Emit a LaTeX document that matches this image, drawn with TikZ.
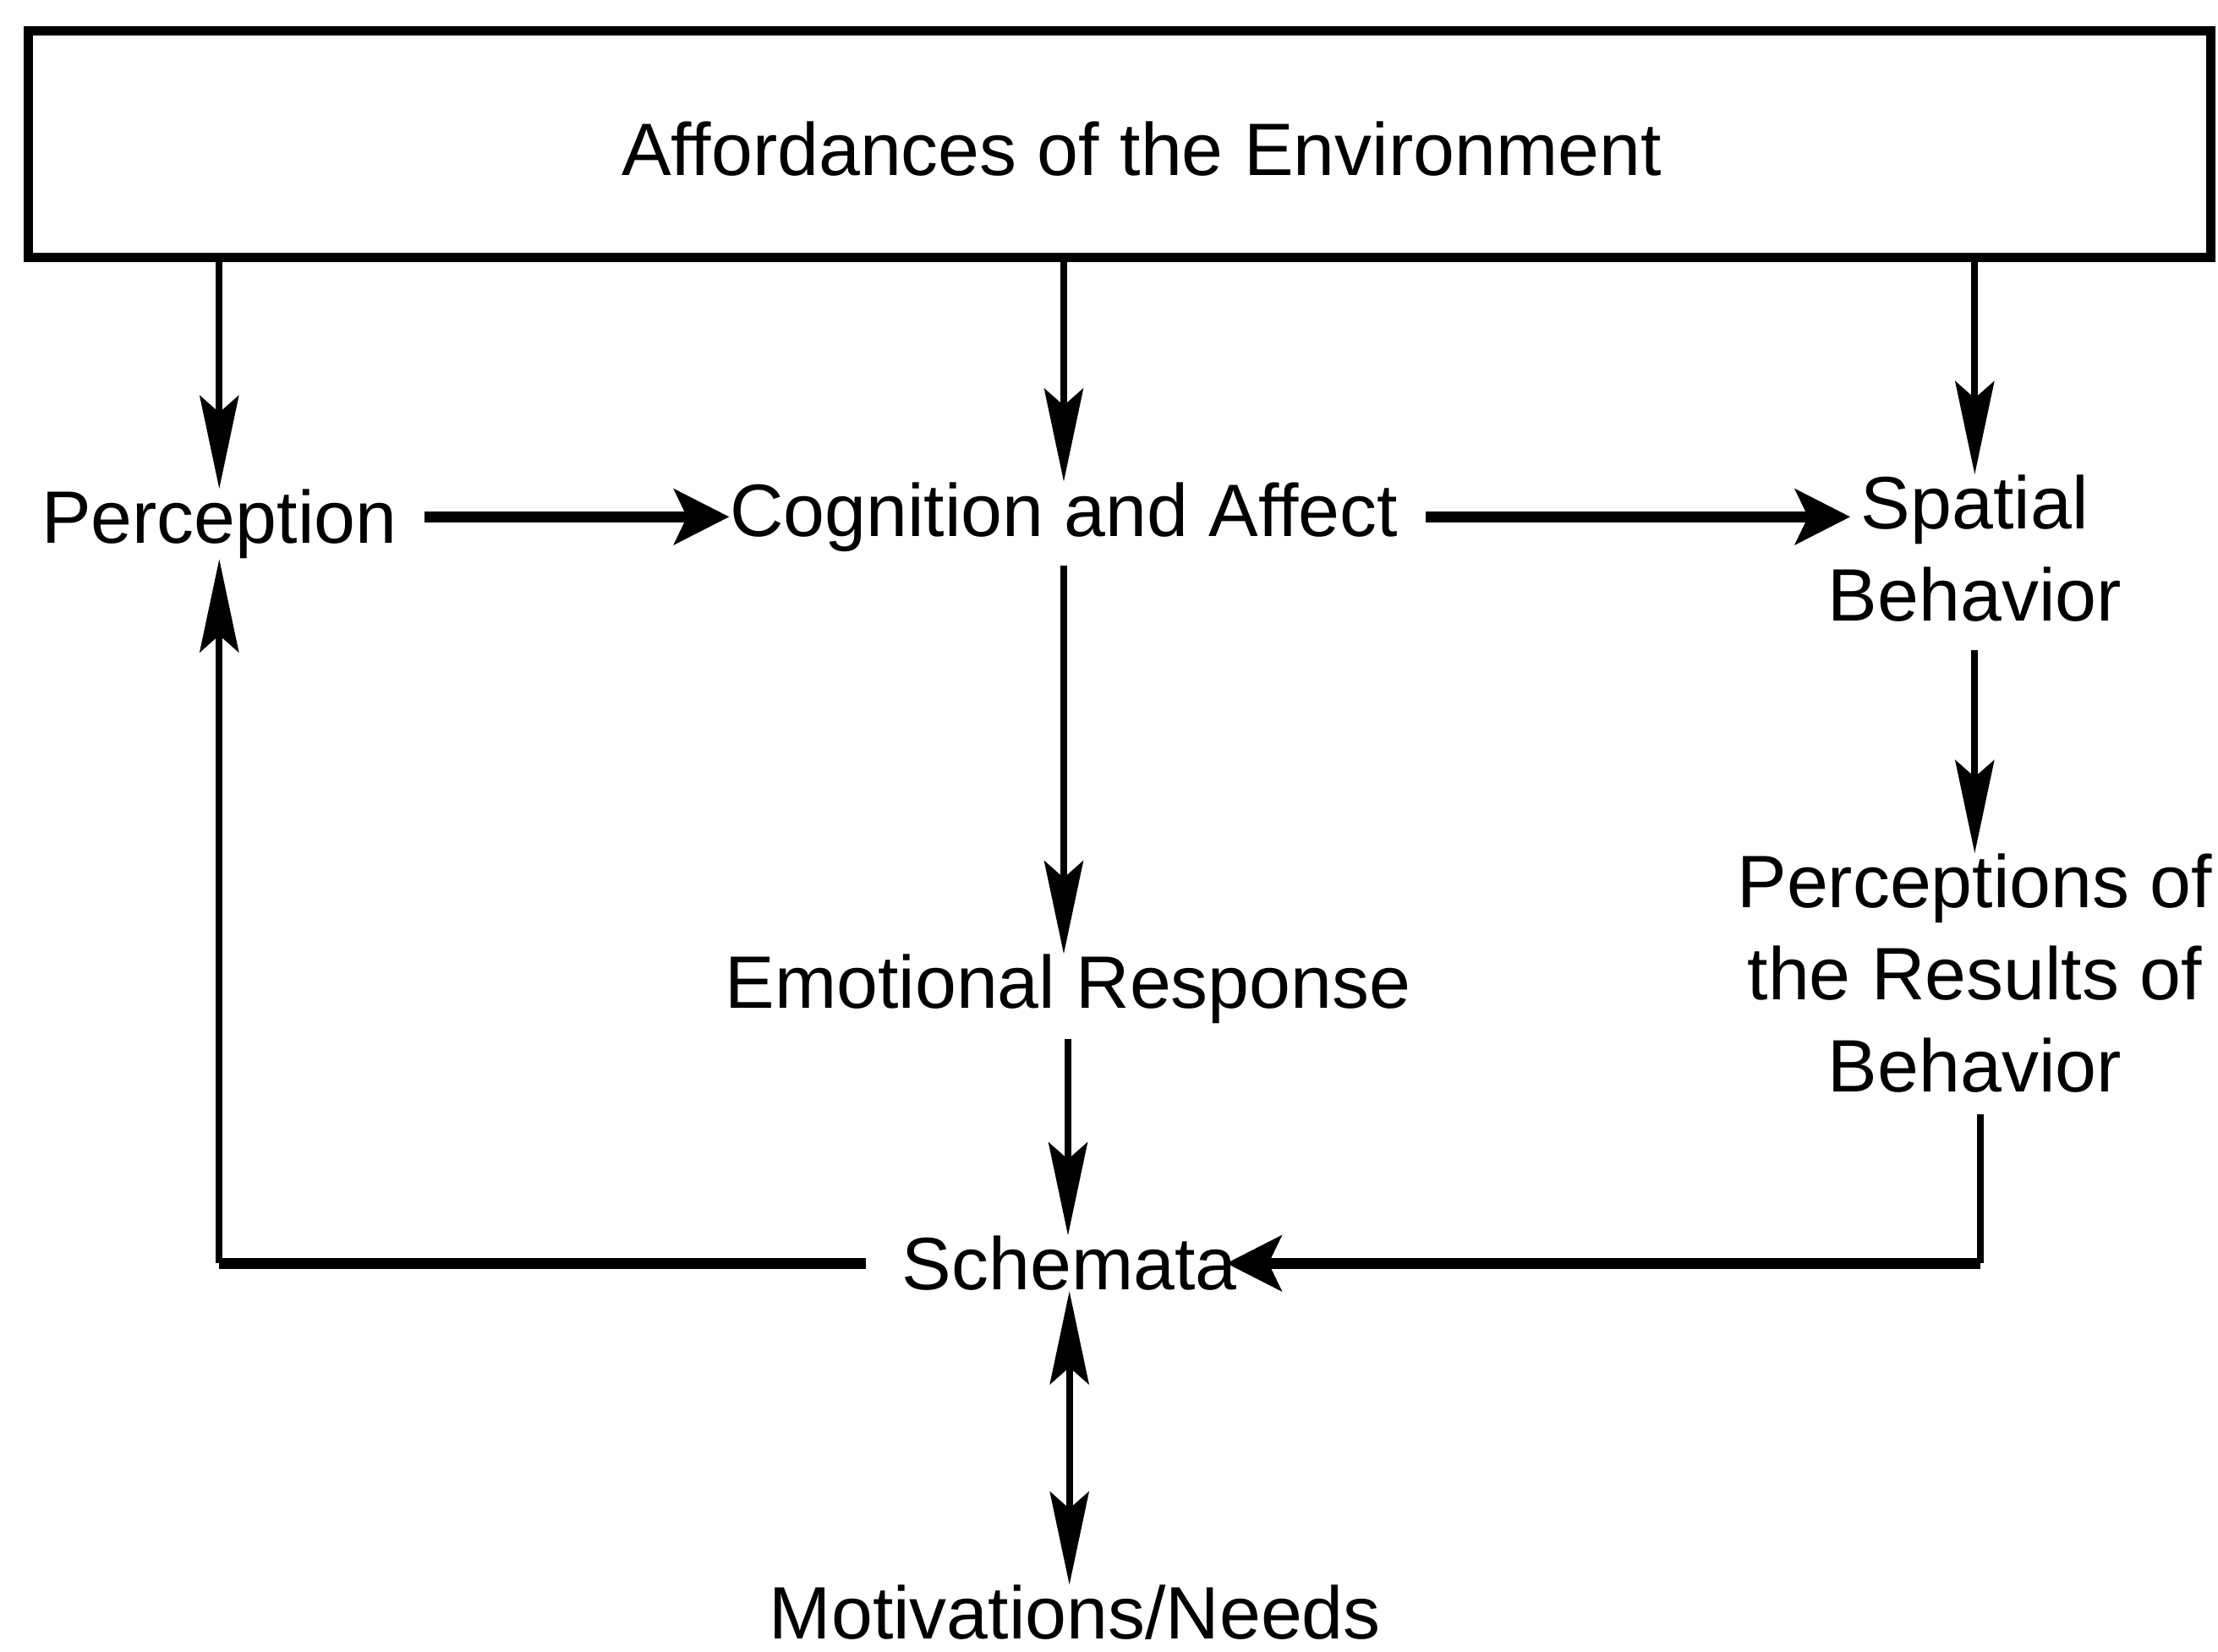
\documentclass[tikz,border=0pt]{standalone}
\usepackage{fontspec}
\setmainfont{Liberation Sans}
\usepackage{tikz}
\usetikzlibrary{arrows.meta}

\begin{document}
\begin{tikzpicture}[
  x=0.16728mm, y=-0.16728mm,
  lbl/.style={font=\fontsize{25}{31}\selectfont, inner sep=0pt, anchor=base, align=center},
  envbox/.style={draw, line width=3pt, minimum width=258.1mm, minimum height=26.8mm, inner sep=0pt},
  vline/.style={line width=2.2pt},
  hline/.style={line width=3.6pt},
  vtip/.style={-{Stealth[length=11mm, width=4.6mm, inset=2mm]}},
  varrow/.style={vline, vtip},
  dvarrow/.style={vline, {Stealth[length=11mm, width=4.6mm, inset=2mm]}-{Stealth[length=11mm, width=4.6mm, inset=2mm]}},
  harrow/.style={hline, -{Stealth[length=6.5mm, width=6.5mm, inset=1.5mm]}},
]
\useasboundingbox (0,0) rectangle (1568,1168);

% Environment box on top
\node[envbox] (env) at (791.5,102) {};
\node[lbl] (envtxt) at (807,124) {Affordances of the Environment};

% Labels (multi-line ones sit on their last line)
\node[lbl] (perc)  at (155,384)  {Perception};
\node[lbl] (cog)   at (752,379)  {Cognition and Affect};
\node[lbl] (spat)  at (1396,439) {Spatial\\Behavior};
\node[lbl] (emo)   at (755,713)  {Emotional Response};
\node[lbl] (res)   at (1396,772) {Perceptions of\\the Results of\\Behavior};
\node[lbl] (schem) at (756,912)  {Schemata};
\node[lbl] (motiv) at (760,1159) {Motivations/Needs};

% Arrows from the environment
\draw[varrow] (env.south -| perc) -- (perc.north);
\draw[varrow] (env.south -| cog) -- (cog.north);
\draw[varrow] (env.south -| spat) -- (spat.north);

% Main row
\coordinate (spatin) at ([xshift=2.7mm]spat.west);
\draw[harrow, shorten <=3.2mm] (cog.west -| perc.east) -- (cog.west);
\draw[harrow, shorten <=3.2mm] (cog.east) -- (cog.east -| spatin);

% Down the middle and right columns
\draw[varrow, shorten <=1.6mm] (cog.south) -- (cog.south |- emo.north);
\draw[varrow, shorten <=1.7mm] (emo.south) -- (emo.south |- schem.north);
\draw[varrow, shorten <=3.3mm] (spat.south) -- (spat.south |- res.north);
\draw[dvarrow] (schem.south) -- (schem.south |- motiv.north);

% Feedback loops
\coordinate (rcorner) at ([xshift=0.7mm]res.south |- schem.east);
\coordinate (lcorner) at (perc.south |- schem.west);
\draw[vline, shorten <=2.5mm] ([xshift=0.7mm]res.south) -- (rcorner);
\draw[harrow, shorten >=-1.3mm] (rcorner) -- (schem.east);
\draw[hline, shorten <=4.2mm] (schem.west) -- (lcorner);
\draw[varrow] (lcorner) -- (perc.south);

\end{tikzpicture}
\end{document}
